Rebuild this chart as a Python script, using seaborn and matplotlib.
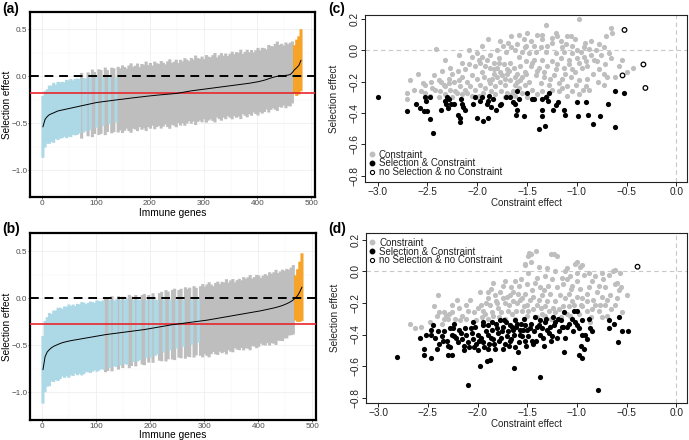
import numpy as np
import pandas as pd
import matplotlib
matplotlib.use("Agg")
import matplotlib.pyplot as plt
from matplotlib.lines import Line2D
from matplotlib.ticker import FixedLocator
import seaborn as sns

sns.set_theme(style="white")
plt.rcParams["font.family"] = ["Liberation Sans", "DejaVu Sans"]
plt.rcParams["axes.unicode_minus"] = True

# ---------------------------------------------------------------------------
# Panels (a) / (b): ranked selection effect per immune gene (one bar every 4th gene)
# ---------------------------------------------------------------------------
a_estimate = [
    -0.54, -0.46, -0.43, -0.41, -0.40, -0.39, -0.38, -0.37, -0.365, -0.36,
    -0.355, -0.35, -0.345, -0.34, -0.335, -0.33, -0.325, -0.32, -0.315, -0.31,
    -0.305, -0.30, -0.295, -0.29, -0.285, -0.28, -0.277, -0.274, -0.271, -0.268,
    -0.265, -0.262, -0.259, -0.256, -0.253, -0.25, -0.247, -0.245, -0.242, -0.239,
    -0.236, -0.233, -0.23, -0.228, -0.225, -0.222, -0.22, -0.217, -0.214, -0.212,
    -0.209, -0.207, -0.205, -0.202, -0.20, -0.198, -0.196, -0.194, -0.192, -0.19,
    -0.188, -0.186, -0.184, -0.18, -0.176, -0.172, -0.168, -0.164, -0.16, -0.156,
    -0.153, -0.15, -0.147, -0.144, -0.141, -0.138, -0.135, -0.132, -0.129, -0.126,
    -0.123, -0.12, -0.117, -0.114, -0.111, -0.108, -0.105, -0.102, -0.099, -0.096,
    -0.093, -0.09, -0.087, -0.084, -0.081, -0.078, -0.075, -0.071, -0.067, -0.063,
    -0.059, -0.054, -0.048, -0.042, -0.035, -0.027, -0.019, -0.012, -0.006, -0.001,
    0.003, 0.005, 0.007, 0.009, 0.012, 0.018, 0.04, 0.07, 0.09, 0.115,
    0.17,
]
a_halfwidth = [  # in hundredths
    33, 30, 29, 31, 30, 32, 29, 31, 30, 30, 29, 31, 30, 31, 29, 30, 30,
    29, 35, 29, 28, 34, 28, 36, 33, 27, 35, 34, 26, 36, 33, 25, 35, 34, 24,
    35, 33, 36, 34, 32, 35, 37, 33, 34, 36,
    32, 35, 34, 37, 33, 35, 32, 36, 34, 33,
    36, 34, 32, 35, 37, 33, 34, 36, 32, 35,
    33, 36, 34, 32, 35, 33, 37, 34, 33, 35,
    32, 36, 34, 33, 35, 37, 32, 34, 36, 33,
    35, 32, 34, 36, 33, 35, 34, 37, 32, 34,
    36, 33, 35, 32, 34, 36, 33, 35, 34, 32,
    36, 34, 33, 35, 37, 33, 34, 32, 35, 33,
    34, 33,
    26, 30, 31, 33,
]
a_class = "B" * 17 + "BGBBGBGGBGGBGGBGGB" + "G" * 82 + "O" * 4
a_cutoff = -0.184

b_estimate = [
    -0.76, -0.62, -0.57, -0.545, -0.525, -0.51, -0.50, -0.49, -0.48, -0.472,
    -0.466, -0.46, -0.455, -0.45, -0.446, -0.442, -0.438, -0.434, -0.43, -0.426,
    -0.422, -0.418, -0.414, -0.41, -0.406, -0.402, -0.398, -0.394, -0.39, -0.386,
    -0.383, -0.38, -0.377, -0.374, -0.371, -0.368, -0.365, -0.362, -0.359, -0.356,
    -0.353, -0.35, -0.347, -0.344, -0.341, -0.338, -0.335, -0.332, -0.328, -0.324,
    -0.32, -0.316, -0.312, -0.308, -0.304, -0.30, -0.296, -0.292, -0.288, -0.284,
    -0.28, -0.277, -0.274, -0.271, -0.268, -0.265, -0.262, -0.259, -0.256, -0.253,
    -0.25, -0.247, -0.244, -0.241, -0.238, -0.235, -0.232, -0.228, -0.224, -0.22,
    -0.216, -0.212, -0.208, -0.204, -0.20, -0.196, -0.192, -0.188, -0.184, -0.18,
    -0.176, -0.172, -0.168, -0.164, -0.16, -0.156, -0.152, -0.148, -0.144, -0.14,
    -0.136, -0.132, -0.127, -0.122, -0.117, -0.112, -0.107, -0.102, -0.096, -0.09,
    -0.083, -0.075, -0.066, -0.056, -0.045, -0.032, -0.015, 0.005, 0.03, 0.07,
    0.12,
]
b_halfwidth = [  # in hundredths
    36, 38, 37, 39, 36, 38, 37, 39, 38, 36, 38, 37, 39, 37, 38, 36, 38, 37, 39,
    38, 36, 37, 38, 37, 36, 38, 37, 36, 37,
    40, 39, 36, 40, 35, 36, 39, 35, 38, 34, 35, 39, 37, 33, 38, 33, 32, 37, 38,
    31, 36, 31, 37, 30, 29, 36, 37, 28, 38, 36, 27, 37, 38, 26, 36, 37, 25, 38,
    36, 37, 24, 38, 36, 23,
    37, 39, 36, 38, 40, 37, 35, 38, 39, 36,
    38, 37, 40, 36, 38, 39, 35, 37, 38, 36,
    39, 37, 38, 40, 36, 37, 39, 38, 35, 37,
    38, 36, 39, 37, 38, 40, 36, 37, 38, 36,
    37, 35, 36, 37,
    24, 28, 32, 36,
]
b_class = "B" * 29 + "GGBGBBGBGBBGGBGBBGGBGBGBBGGBGGBGGBGGBGGGBGGB" + "G" * 44 + "O" * 4
b_cutoff = -0.277

# ---------------------------------------------------------------------------
# Panels (c) / (d): constraint effect vs selection effect, (x, y) pairs
# ---------------------------------------------------------------------------
c_constraint = [
    (-2.71, -0.27), (-2.71, -0.31), (-2.64, -0.25), (-2.60, -0.15), (-2.68, -0.19),
    (-2.41, 0.01), (-1.89, 0.07), (-1.77, 0.06), (-1.66, 0.09), (-1.58, 0.10), (-1.53, 0.07),
    (-1.95, -0.04), (-2.05, -0.04), (-2.15, -0.08), (-2.08, -0.09), (-2.27, -0.11), (-2.19, -0.13),
    (-1.98, -0.06), (-1.90, -0.06), (-1.83, -0.08), (-1.78, -0.05), (-1.71, -0.01), (-1.66, 0.02),
    (-1.62, 0.00), (-1.58, -0.04), (-1.55, -0.01), (-1.52, 0.02),
    (-2.35, -0.13), (-2.43, -0.16), (-2.46, -0.20), (-2.38, -0.19), (-2.33, -0.22), (-2.28, -0.18),
    (-2.23, -0.20), (-2.18, -0.19), (-2.15, -0.17), (-2.10, -0.20), (-2.05, -0.16), (-2.00, -0.18),
    (-1.95, -0.14), (-1.92, -0.10), (-1.87, -0.11), (-1.83, -0.15), (-1.80, -0.11), (-1.77, -0.14),
    (-1.73, -0.09), (-1.70, -0.12), (-1.67, -0.08), (-1.63, -0.11), (-1.60, -0.15), (-1.57, -0.10),
    (-1.52, -0.14),
    (-2.42, -0.25), (-2.37, -0.26), (-2.32, -0.23), (-2.27, -0.25), (-2.22, -0.26), (-2.17, -0.23),
    (-2.12, -0.25), (-2.07, -0.23), (-2.02, -0.25), (-1.97, -0.22), (-1.92, -0.24), (-1.87, -0.21),
    (-1.82, -0.23), (-1.77, -0.20), (-1.72, -0.22), (-1.67, -0.19), (-1.62, -0.22), (-1.57, -0.19),
    (-1.52, -0.22),
    (-2.32, -0.28), (-2.15, -0.28), (-1.98, -0.29), (-1.82, -0.28), (-1.65, -0.28), (-2.25, -0.30),
    (-2.05, -0.29), (-1.72, -0.30), (-1.55, -0.27), (-2.52, -0.22), (-2.57, -0.26), (-2.47, -0.29),
    (-0.98, 0.20), (-1.31, 0.16), (-1.50, 0.11), (-1.40, 0.10), (-1.35, 0.10), (-1.21, 0.11),
    (-1.20, 0.09), (-1.10, 0.09), (-1.06, 0.09), (-0.66, 0.14), (-0.65, 0.11), (-0.71, 0.09),
    (-0.86, 0.06), (-0.76, -0.03), (-0.68, -0.02), (-0.73, 0.02), (-0.81, 0.00), (-0.88, 0.01),
    (-0.93, 0.02), (-1.00, 0.00), (-1.05, 0.03), (-1.11, 0.04), (-1.16, 0.06), (-1.25, 0.05),
    (-1.30, 0.03), (-1.36, 0.02), (-1.43, 0.03), (-1.46, 0.06), (-1.51, 0.03),
    (-1.48, -0.02), (-1.41, -0.01), (-1.31, -0.01), (-1.21, -0.02), (-1.13, -0.01), (-1.05, -0.02),
    (-0.96, -0.01), (-0.86, -0.03), (-0.83, -0.06), (-0.91, -0.07), (-1.00, -0.05), (-1.08, -0.06),
    (-1.16, -0.05), (-1.25, -0.07), (-1.35, -0.06), (-1.43, -0.06), (-1.51, -0.07),
    (-1.46, -0.10), (-1.38, -0.11), (-1.30, -0.10), (-1.21, -0.12), (-1.13, -0.11), (-1.05, -0.12),
    (-0.95, -0.11), (-0.78, -0.12), (-0.73, -0.15), (-0.58, -0.10), (-0.43, -0.11),
    (-1.51, -0.15), (-1.41, -0.16), (-1.33, -0.17), (-1.23, -0.16), (-1.15, -0.18), (-1.06, -0.17),
    (-0.98, -0.19), (-0.90, -0.18), (-0.79, -0.20), (-0.73, -0.22),
    (-1.48, -0.20), (-1.36, -0.21), (-1.28, -0.22), (-1.18, -0.21), (-1.10, -0.23), (-1.01, -0.22),
    (-0.91, -0.23), (-1.45, -0.25), (-1.35, -0.26), (-1.25, -0.25), (-1.15, -0.24), (-1.05, -0.26),
    (-0.94, -0.25), (-0.88, -0.25), (-1.40, -0.28), (-0.70, -0.17),
    (-1.85, -0.18), (-1.80, -0.17), (-1.75, -0.16), (-1.70, -0.15), (-1.68, -0.13), (-1.72, -0.18),
    (-1.78, -0.08), (-1.83, -0.12), (-1.88, -0.19), (-1.93, -0.17), (-1.62, -0.17), (-1.60, -0.20),
    (-1.55, -0.17), (-1.58, -0.24), (-1.64, -0.26), (-1.70, -0.27), (-1.76, -0.26), (-1.86, -0.26),
    (-1.94, -0.27), (-2.10, -0.27), (-2.20, -0.27), (-2.28, -0.21), (-2.36, -0.20), (-2.45, -0.24),
    (-2.52, -0.27), (-2.55, -0.21), (-2.25, -0.15), (-2.12, -0.12), (-2.02, -0.10), (-2.00, -0.02),
    (-1.97, -0.08), (-1.87, -0.03), (-1.80, 0.00), (-1.74, 0.03), (-1.69, 0.05), (-1.60, 0.04),
    (-1.45, -0.08), (-1.40, -0.13), (-1.33, -0.14), (-1.27, -0.18), (-1.20, -0.09), (-1.18, -0.26),
    (-1.12, -0.15), (-1.08, -0.09), (-1.02, -0.14), (-0.98, -0.08), (-0.93, -0.04), (-0.90, -0.10),
    (-0.84, -0.15), (-0.80, -0.07), (-0.66, -0.05), (-0.62, -0.17), (-0.55, -0.06), (-0.50, -0.14),
    (-2.32, -0.06), (-2.18, -0.03), (-2.08, 0.00), (-1.95, 0.03), (-1.35, 0.07), (-1.25, 0.08),
    (-1.15, 0.02), (-1.02, 0.07), (-0.92, 0.05), (-0.78, 0.04), (-0.72, -0.09), (-1.50, -0.30),
    (-1.30, -0.29), (-1.10, -0.29), (-0.98, -0.28), (-1.62, -0.29), (-2.00, -0.30), (-2.38, -0.30),
]
c_both = [
    (-3.00, -0.30), (-2.71, -0.39), (-2.62, -0.34), (-2.58, -0.37), (-2.54, -0.39), (-2.52, -0.30),
    (-2.50, -0.39), (-2.51, -0.32), (-2.47, -0.30), (-2.47, -0.44), (-2.44, -0.53), (-2.36, -0.38),
    (-2.32, -0.32), (-2.31, -0.34), (-2.30, -0.30), (-2.29, -0.37), (-2.28, -0.31), (-2.26, -0.34),
    (-2.23, -0.34), (-2.19, -0.41), (-2.17, -0.43), (-2.17, -0.46), (-2.16, -0.31), (-2.15, -0.34),
    (-2.14, -0.36), (-2.12, -0.38), (-2.04, -0.34), (-2.02, -0.30), (-2.00, -0.43), (-1.97, -0.32),
    (-1.95, -0.30), (-1.94, -0.45), (-1.90, -0.34), (-1.89, -0.32), (-1.89, -0.43), (-1.88, -0.29),
    (-1.86, -0.36), (-1.84, -0.31), (-1.81, -0.38), (-1.77, -0.35), (-1.76, -0.34), (-1.71, -0.30),
    (-1.67, -0.30), (-1.64, -0.33), (-1.62, -0.34), (-1.60, -0.38), (-1.61, -0.41), (-1.58, -0.31),
    (-1.60, -0.26), (-1.53, -0.42), (-1.50, -0.27), (-1.45, -0.31), (-1.43, -0.31), (-1.38, -0.50),
    (-1.35, -0.38), (-1.35, -0.42), (-1.35, -0.31), (-1.32, -0.48), (-1.31, -0.30), (-1.29, -0.32),
    (-1.28, -0.27), (-1.24, -0.38), (-1.21, -0.35), (-1.19, -0.33), (-1.13, -0.38), (-1.12, -0.41),
    (-1.00, -0.33), (-0.99, -0.42), (-0.91, -0.33), (-0.89, -0.41), (-0.84, -0.47), (-0.77, -0.42),
    (-0.69, -0.34), (-0.62, -0.26), (-0.62, -0.49), (-0.53, -0.27),
]
c_neither = [(-0.52, 0.13), (-0.33, -0.09), (-0.54, -0.16), (-0.31, -0.24)]

d_constraint = [
    (-2.68, -0.33), (-2.63, -0.36), (-2.57, -0.35), (-2.44, -0.22), (-2.40, -0.15), (-2.39, -0.26),
    (-2.34, -0.26), (-2.29, -0.27), (-2.26, -0.26), (-2.23, -0.30), (-2.21, -0.18), (-2.19, -0.23),
    (-2.16, -0.28), (-2.12, -0.30), (-2.08, -0.18), (-2.04, -0.26), (-2.00, -0.23), (-1.97, -0.21),
    (-1.95, -0.25), (-1.93, -0.27), (-1.90, -0.13), (-1.89, -0.17), (-1.87, -0.21), (-1.85, -0.26),
    (-1.84, -0.07), (-1.82, -0.15), (-1.81, -0.19), (-1.79, -0.23), (-1.77, -0.13), (-1.74, -0.17),
    (-1.72, -0.06), (-1.72, -0.20), (-1.69, -0.25), (-1.67, -0.15), (-1.66, -0.10), (-1.64, -0.19),
    (-1.62, -0.06), (-1.61, -0.25), (-1.59, -0.14), (-1.57, -0.18), (-1.55, -0.25), (-1.52, 0.05),
    (-2.41, -0.28), (-2.34, -0.30),
    (-1.41, 0.13), (-1.49, 0.10), (-1.46, 0.06), (-1.52, 0.04), (-1.26, 0.11), (-1.23, 0.11),
    (-1.00, 0.06), (-0.95, 0.04), (-1.49, -0.01), (-1.40, -0.04), (-1.32, -0.03), (-1.22, 0.00),
    (-1.12, 0.00), (-1.07, -0.03), (-1.10, -0.05), (-1.00, -0.01), (-0.88, -0.01), (-0.85, -0.06),
    (-0.75, -0.01), (-0.62, 0.01), (-0.57, -0.01), (-0.78, -0.09), (-0.72, -0.10), (-0.60, -0.07),
    (-0.58, -0.12), (-0.50, -0.15), (-0.55, -0.26), (-0.62, -0.21), (-0.72, -0.21), (-0.82, -0.21),
    (-0.90, -0.14), (-0.97, -0.11), (-1.05, -0.09), (-1.14, -0.08), (-1.20, -0.10), (-1.29, -0.09),
    (-1.37, -0.10), (-1.45, -0.12), (-1.52, -0.14), (-1.44, -0.16), (-1.35, -0.15), (-1.27, -0.14),
    (-1.17, -0.15), (-1.08, -0.14), (-1.00, -0.16), (-0.90, -0.19), (-0.85, -0.24), (-0.77, -0.21),
    (-0.87, -0.32), (-1.50, -0.21), (-1.40, -0.21), (-1.32, -0.22), (-1.24, -0.23), (-1.14, -0.22),
    (-1.05, -0.19), (-0.95, -0.22), (-1.49, -0.25), (-1.35, -0.27), (-1.22, -0.26), (-1.07, -0.28),
    (-0.75, -0.16), (-0.67, -0.15), (-0.62, -0.08),
    (-1.92, -0.20), (-1.86, -0.11), (-1.80, -0.20), (-1.76, -0.26), (-1.70, -0.16), (-1.68, -0.21),
    (-1.65, -0.27), (-1.60, -0.20), (-1.58, -0.09), (-1.55, -0.17), (-1.53, -0.22), (-1.50, -0.28),
    (-1.47, -0.18), (-1.44, -0.24), (-1.42, -0.07), (-1.38, -0.18), (-1.36, -0.23), (-1.33, -0.12),
    (-1.30, -0.19), (-1.28, -0.25), (-1.25, -0.05), (-1.22, -0.19), (-1.18, -0.24), (-1.15, -0.04),
    (-1.12, -0.17), (-1.10, -0.27), (-1.06, -0.11), (-1.03, -0.21), (-1.00, -0.06), (-0.98, -0.27),
    (-0.95, -0.17), (-0.93, -0.02), (-0.90, -0.25), (-0.88, -0.10), (-0.84, -0.18), (-0.80, -0.13),
    (-0.78, -0.25), (-0.74, -0.05), (-0.70, -0.18), (-0.66, -0.24), (-0.64, 0.00), (-0.60, -0.17),
    (-0.56, -0.10), (-1.48, 0.12), (-1.46, 0.11), (-1.20, 0.10), (-1.38, 0.03), (-1.30, 0.02),
    (-1.10, 0.02), (-1.02, 0.05), (-0.97, 0.03), (-0.82, -0.03), (-0.68, -0.02), (-2.48, -0.32),
    (-2.36, -0.33), (-2.30, -0.30), (-2.18, -0.31), (-2.10, -0.25), (-2.02, -0.31), (-1.98, -0.13),
    (-1.96, -0.29), (-1.90, -0.30), (-1.84, -0.28), (-1.78, -0.29), (-2.12, -0.21), (-2.26, -0.21),
    (-2.32, -0.28), (-1.74, -0.09), (-1.64, -0.13), (-1.56, -0.05), (-1.50, -0.08), (-1.72, -0.30),
    (-1.62, -0.30), (-1.40, -0.29), (-1.32, -0.28), (-1.26, -0.30), (-1.16, -0.29), (-1.08, -0.22),
    (-0.96, -0.21), (-0.86, -0.29), (-0.75, -0.29), (-0.70, -0.28),
]
d_both = [
    (-2.81, -0.54), (-2.58, -0.42), (-2.54, -0.49), (-2.54, -0.53), (-2.47, -0.55), (-2.47, -0.37),
    (-2.47, -0.40), (-2.43, -0.42), (-2.39, -0.46), (-2.41, -0.49), (-2.36, -0.41), (-2.34, -0.38),
    (-2.31, -0.44), (-2.30, -0.47), (-2.28, -0.36), (-2.26, -0.40), (-2.24, -0.33), (-2.22, -0.42),
    (-2.19, -0.37), (-2.30, -0.53), (-2.26, -0.53), (-2.16, -0.43), (-2.14, -0.47), (-2.12, -0.40),
    (-2.10, -0.45), (-2.07, -0.36), (-2.05, -0.43), (-2.04, -0.48), (-2.00, -0.40), (-2.02, -0.46),
    (-1.99, -0.44), (-1.98, -0.60), (-1.95, -0.34), (-1.94, -0.48), (-1.91, -0.57), (-1.90, -0.40),
    (-1.88, -0.46), (-1.87, -0.56), (-1.85, -0.37), (-1.84, -0.43), (-1.82, -0.49), (-1.81, -0.33),
    (-1.79, -0.39), (-1.77, -0.31), (-1.76, -0.42), (-1.74, -0.35), (-1.72, -0.46), (-1.71, -0.32),
    (-1.69, -0.38), (-1.67, -0.34), (-1.66, -0.43), (-1.64, -0.37), (-1.62, -0.31), (-1.61, -0.35),
    (-1.59, -0.51), (-1.57, -0.40), (-1.56, -0.33), (-1.54, -0.37), (-1.52, -0.44), (-1.63, -0.61),
    (-2.10, -0.72),
    (-1.52, -0.34), (-1.50, -0.37), (-1.47, -0.36), (-1.45, -0.44), (-1.42, -0.29), (-1.40, -0.35),
    (-1.37, -0.31), (-1.37, -0.40), (-1.35, -0.36), (-1.33, -0.47), (-1.32, -0.32), (-1.30, -0.37),
    (-1.27, -0.35), (-1.25, -0.41), (-1.24, -0.29), (-1.22, -0.32), (-1.20, -0.42), (-1.19, -0.30),
    (-1.15, -0.35), (-1.14, -0.35), (-1.13, -0.26), (-1.13, -0.51), (-1.10, -0.35), (-1.03, -0.25),
    (-1.00, -0.25), (-1.02, -0.32), (-1.00, -0.34), (-0.95, -0.40), (-0.95, -0.31), (-0.96, -0.47),
    (-0.98, -0.53), (-0.95, -0.55), (-0.93, -0.49), (-0.92, -0.40), (-0.90, -0.43), (-0.87, -0.36),
    (-0.85, -0.38), (-0.88, -0.30), (-0.68, -0.31), (-0.68, -0.36), (-0.63, -0.33), (-0.58, -0.29),
    (-0.59, -0.45), (-0.55, -0.38), (-0.49, -0.38), (-0.79, -0.75), (-1.37, -0.67),
    (-2.20, -0.45), (-2.17, -0.39), (-2.13, -0.36), (-2.09, -0.48), (-2.06, -0.39), (-2.03, -0.35),
    (-1.97, -0.42), (-1.95, -0.45), (-1.92, -0.38), (-1.89, -0.34), (-1.86, -0.42), (-1.83, -0.46),
    (-1.80, -0.36), (-1.78, -0.44), (-1.75, -0.38), (-1.73, -0.31), (-1.70, -0.41), (-1.68, -0.47),
    (-1.65, -0.35), (-1.63, -0.40), (-1.60, -0.33), (-1.58, -0.45), (-1.55, -0.41), (-1.53, -0.30),
    (-1.49, -0.41), (-1.46, -0.33), (-1.43, -0.38), (-1.41, -0.44), (-1.38, -0.34), (-1.34, -0.42),
    (-1.31, -0.30), (-1.28, -0.39), (-1.26, -0.44), (-1.23, -0.34), (-1.18, -0.38), (-1.16, -0.31),
    (-1.12, -0.42), (-1.08, -0.33), (-1.05, -0.30), (-1.04, -0.38), (-0.98, -0.36), (-2.35, -0.44),
    (-2.40, -0.38), (-2.28, -0.48), (-2.24, -0.41), (-2.14, -0.50), (-2.00, -0.50), (-1.90, -0.49),
    (-1.74, -0.49), (-1.67, -0.44), (-1.57, -0.37), (-1.51, -0.47), (-1.44, -0.46), (-1.62, -0.48),
    (-1.85, -0.32), (-1.95, -0.32), (-2.05, -0.32), (-2.25, -0.36), (-2.45, -0.34), (-2.52, -0.40),
]
d_neither = [(-0.39, 0.03)]

CLASS_COLORS = {"G": "#BEBEBE", "B": "#ADD8E6", "O": "#F6A328"}
GREY_PT = "#BEBEBE"


def rank_panel(ax, estimate, halfwidth, classes, cutoff, ylim, xlabel_y):
    est = np.asarray(estimate, dtype=float)
    hw = np.asarray(halfwidth, dtype=float) / 100.0
    assert len(est) == len(hw) == len(classes)
    df = pd.DataFrame({
        "rank": np.arange(1, 4 * len(est), 4),
        "est": est,
        "lo": est - hw,
        "hi": est + hw,
        "cls": list(classes),
    })
    for key, col in CLASS_COLORS.items():
        sub = df[df["cls"] == key]
        ax.vlines(sub["rank"], sub["lo"], sub["hi"], color=col, lw=2.2,
                  zorder=2, snap=False)
    sns.lineplot(data=df, x="rank", y="est", ax=ax, color="black", lw=0.7, zorder=4)
    ax.axhline(0, color="black", lw=1.4, ls=(0, (4.5, 3)), zorder=3)
    ax.axhline(cutoff, color="#E8262B", lw=1.2, zorder=3)

    ax.set_xlim(-23, 507)
    ax.set_ylim(*ylim)
    ax.set_xticks([0, 100, 200, 300, 400, 500])
    ax.set_yticks([-1.0, -0.5, 0.0, 0.5])
    ax.xaxis.set_minor_locator(FixedLocator([50, 150, 250, 350, 450]))
    ax.yaxis.set_minor_locator(FixedLocator([-1.25, -0.75, -0.25, 0.25]))
    ax.set_axisbelow(True)
    ax.grid(True, which="major", color="#EBEBEB", lw=0.5)
    ax.grid(True, which="minor", color="#F4F4F4", lw=0.3)
    ax.tick_params(which="major", length=1.4, width=0.5, color="#333333",
                   labelsize=5.9, labelcolor="#4D4D4D", pad=0.4,
                   bottom=True, left=True)
    ax.tick_params(which="minor", length=0)
    for sp in ax.spines.values():
        sp.set_color("black")
        sp.set_linewidth(1.6)
    ax.set_xlabel("Immune genes", fontsize=7.3, color="black")
    ax.set_ylabel("Selection effect", fontsize=7.2, color="black")
    ax.xaxis.set_label_coords(0.5, xlabel_y)
    ax.xaxis.label.set_va("center")
    ax.yaxis.set_label_coords(-0.082, 0.5)
    ax.yaxis.label.set_va("center")


def scatter_panel(ax, grey_pts, black_pts, open_pts, ylim, legend_loc):
    grey = pd.DataFrame(grey_pts, columns=["x", "y"])
    black = pd.DataFrame(black_pts, columns=["x", "y"])
    hollow = pd.DataFrame(open_pts, columns=["x", "y"])

    ax.axhline(0, color="#C8C8C8", lw=0.8, ls=(0, (4, 3)), zorder=1)
    ax.axvline(0, color="#C8C8C8", lw=0.8, ls=(0, (4, 3)), zorder=1)
    sns.scatterplot(data=grey, x="x", y="y", ax=ax, color=GREY_PT, s=14,
                    linewidth=0, zorder=2)
    sns.scatterplot(data=black, x="x", y="y", ax=ax, color="black", s=14,
                    linewidth=0, zorder=3)
    ax.scatter(hollow["x"], hollow["y"], s=11, facecolors="none",
               edgecolors="black", linewidths=0.9, zorder=3)

    ax.set_xlim(-3.128, 0.108)
    ax.set_ylim(*ylim)
    ax.set_xticks([-3.0, -2.5, -2.0, -1.5, -1.0, -0.5, 0.0])
    ax.set_xticklabels(["\u22123.0", "\u22122.5", "\u22122.0", "\u22121.5",
                        "\u22121.0", "\u22120.5", "0.0"])
    ax.set_yticks([-0.8, -0.6, -0.4, -0.2, 0.0, 0.2])
    ax.set_yticklabels(["\u22120.8", "\u22120.6", "\u22120.4", "\u22120.2",
                        "0.0", "0.2"], rotation=90, va="center")
    ax.tick_params(length=2.8, width=0.6, color="black", labelsize=7.3,
                   labelcolor="#222222", pad=0.8, bottom=True, left=True)
    for sp in ax.spines.values():
        sp.set_color("#222222")
        sp.set_linewidth(0.8)
    ax.set_xlabel("Constraint effect", fontsize=7, color="#222222")
    ax.set_ylabel("Selection effect", fontsize=7.2, color="#222222")
    ax.xaxis.label.set_va("center")
    ax.yaxis.label.set_va("center")
    ax.yaxis.set_label_coords(-0.096, 0.5)

    handles = [
        Line2D([], [], ls="", marker="o", ms=3.2, color=GREY_PT, mec=GREY_PT),
        Line2D([], [], ls="", marker="o", ms=3.2, color="black"),
        Line2D([], [], ls="", marker="o", ms=3.0, mfc="none", mec="black", mew=0.8),
    ]
    labels = ["Constraint", "Selection & Constraint", "no Selection & no Constraint"]
    ax.legend(handles, labels, loc=legend_loc, frameon=False, fontsize=7,
              handlelength=0.5, handletextpad=0.45, labelspacing=-0.12,
              borderaxespad=0.25, borderpad=0.2, labelcolor="#222222")


fig = plt.figure(figsize=(6.89, 4.40), dpi=100)
ax_a = fig.add_axes([30 / 689, 1 - 197 / 440, 285 / 689, 185 / 440])
ax_b = fig.add_axes([30 / 689, 1 - 420 / 440, 286 / 689, 187 / 440])
ax_c = fig.add_axes([365 / 689, 1 - 181.7 / 440, 322 / 689, 166.7 / 440])
ax_d = fig.add_axes([365.5 / 689, 1 - 403.3 / 440, 321.5 / 689, 170 / 440])

rank_panel(ax_a, a_estimate, a_halfwidth, a_class, a_cutoff, (-1.287, 0.684), -0.087)
rank_panel(ax_b, b_estimate, b_halfwidth, b_class, b_cutoff, (-1.295, 0.696), -0.08)
scatter_panel(ax_c, c_constraint, c_both, c_neither, (-0.838, 0.2255), "lower left")
scatter_panel(ax_d, d_constraint, d_both, d_neither, (-0.836, 0.242), "upper left")
ax_c.xaxis.set_label_coords(0.5, -0.125)
ax_d.xaxis.set_label_coords(0.5, -0.122)

for label, x, y in [("(a)", 2, 9), ("(b)", 2, 229), ("(c)", 328, 9), ("(d)", 328, 229)]:
    fig.text(x / 689, 1 - y / 440, label, fontsize=10, fontweight="bold",
             ha="left", va="center", color="black")

fig.savefig("out.png", dpi=100)
